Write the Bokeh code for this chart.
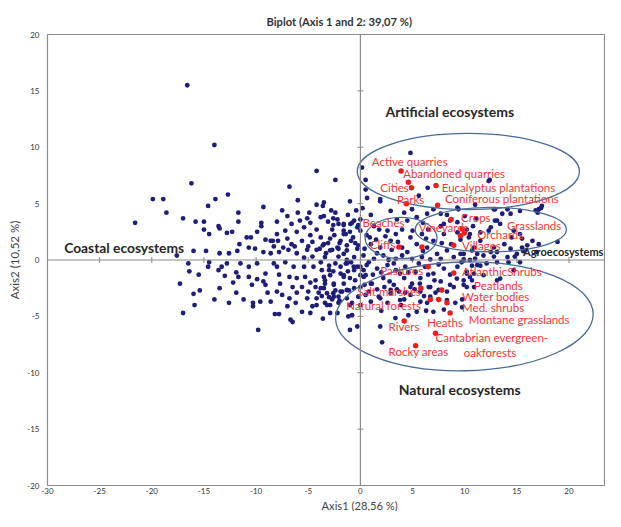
from bokeh.plotting import figure
from bokeh.models import ColumnDataSource, Range1d, FixedTicker, Span, Title
from bokeh.embed import file_html
from bokeh.resources import INLINE
from bokeh.core.properties import value

# ---------------- data ----------------
title_text = "Biplot (Axis 1 and 2: 39,07 %)"
x_title = "Axis1 (28,56 %)"
y_title = "Axis2 (10,52 %)"

x_ticks = [-30, -25, -20, -15, -10, -5, 0, 5, 10, 15, 20, 25]
x_tick_labels = ["-30", "-25", "-20", "-15", "-10", "-5", "0", "5", "10", "15", "20", "25"]
y_ticks = [-20, -15, -10, -5, 0, 5, 10, 15, 20]
y_tick_labels = ["-20", "-15", "-10", "-5", "0", "5", "10", "15", "20"]

# observations (blue points)
blue_pts = [
    (-16.6, 15.5), (-14.0, 10.2), (-16.2, 6.8), (-19.9, 5.4), (-18.9, 5.4), (-18.6, 4.2), (-21.6, 3.3),
    (-17.0, 3.7), (-15.8, 3.4), (-15.0, 3.4), (-14.6, 4.8), (-13.9, 5.4), (-12.7, 5.8), (-11.7, 4.2),
    (-11.7, 3.4), (-9.3, 4.7), (-6.8, 6.5), (-6.0, 5.3), (-4.2, 7.9), (-2.4, 7.1), (-7.5, 4.4), (-7.0, 3.9),
    (-8.0, 3.4), (-9.5, 3.3), (-6.0, 4.2), (-5.1, 3.7), (-4.9, 4.2), (-4.8, 3.3), (-4.2, 4.9), (-3.5, 5.1),
    (-3.6, 4.8), (-3.8, 3.8), (-3.5, 3.9), (-2.8, 4.4), (-2.4, 4.2), (-2.6, 3.7), (-2.2, 3.6), (-2.1, 3.2),
    (-1.6, 3.1), (-0.8, 3.3), (-0.2, 3.1), (-2.6, 3.1), (-13.6, 3.0),
    (-15.0, 2.7), (-14.5, 2.3), (-13.5, 2.8), (-12.8, 2.4), (-12.3, 2.5), (-10.9, 2.0), (-10.5, 2.0),
    (-9.9, 2.5), (-9.5, 3.0), (-9.1, 1.8), (-8.6, 1.7), (-8.4, 1.7), (-8.0, 2.3), (-7.9, 1.7), (-7.0, 1.9),
    (-6.6, 1.4), (-6.1, 2.5), (-5.4, 2.9), (-5.6, 1.7), (-4.8, 2.2), (-4.6, 1.6), (-4.2, 2.7), (-3.8, 2.0),
    (-3.6, 1.3), (-2.9, 1.9), (-2.7, 2.7), (-1.9, 1.7), (-1.6, 2.3), (-1.3, 1.3), (-0.7, 2.0), (-0.3, 1.0),
    (-2.1, 1.0), (-2.7, 0.9), (-3.3, 0.6), (-4.2, 0.9), (-5.1, 0.9), (-6.1, 0.6), (-6.9, 0.9), (-7.8, 0.7),
    (-8.6, 0.6), (-9.3, 0.7), (-10.1, 1.0), (-10.7, 1.1), (-11.6, 1.4), (-11.8, 0.8), (-12.6, 0.6),
    (-13.5, 0.6), (-14.8, 0.8), (-16.0, 0.8), (-17.6, 0.4),
    (-16.5, -0.3), (-16.4, -1.0), (-15.5, -1.3), (-17.3, -2.1), (-16.0, -3.0), (-15.4, -2.7), (-15.9, -4.0),
    (-17.0, -4.7), (-14.6, -0.6), (-14.5, -0.2), (-13.5, -2.5), (-13.3, -0.6), (-12.8, -0.3), (-13.6, -0.9),
    (-11.9, -1.1), (-11.7, -1.5), (-11.9, -2.9), (-11.2, -3.5), (-11.5, -0.3), (-10.7, -0.6), (-10.7, -1.5),
    (-10.4, -2.2), (-10.3, -3.8), (-10.3, -4.1), (-9.8, -6.2), (-9.9, -0.3), (-9.1, -1.2), (-9.3, -1.9),
    (-9.1, -2.2), (-9.6, -3.7), (-8.6, -3.7), (-8.2, -4.8), (-7.8, -4.8), (-8.3, -0.3), (-8.0, -0.6),
    (-7.8, -1.3), (-7.7, -2.1), (-8.0, -2.8), (-7.5, -3.1), (-7.0, -4.1), (-6.7, -5.3), (-6.5, -5.5),
    (-7.2, -0.2), (-6.8, -1.5), (-6.4, -0.6), (-6.1, -1.6), (-6.5, -2.4), (-6.1, -2.9), (-6.2, -3.8),
    (-5.4, -0.6), (-5.3, -1.5), (-5.6, -2.4), (-5.0, -2.8), (-5.1, -3.4), (-4.6, -4.1), (-4.8, -4.7),
    (-4.5, -0.6), (-4.3, -1.8), (-4.3, -2.4), (-4.2, -3.4), (-4.2, -4.0), (-3.8, -0.2), (-3.7, -0.9),
    (-3.5, -1.5), (-3.4, -2.1), (-3.5, -2.5), (-3.2, -2.95), (-3.4, -3.8), (-2.9, -4.0), (-2.7, -3.5),
    (-2.55, -3.25), (-3.0, -0.5), (-2.9, -1.35), (-2.55, -2.1), (-2.4, -2.7), (-2.2, -4.7), (-2.1, -3.8),
    (-2.1, -3.25), (-1.9, -0.6), (-1.6, -1.35), (-1.6, -2.1), (-1.75, -2.8), (-1.3, -3.4), (-1.0, -4.0),
    (-1.15, -5.0), (-1.0, -6.2), (-0.3, -5.9), (-1.3, -0.3), (-0.6, -0.9), (-0.5, -1.8), (-0.6, -2.5),
    (-0.15, -3.25), (0.0, -1.35), (0.0, -2.4), (0.0, -0.6),
    (1.9, 5.2), (2.9, 4.35), (4.95, 4.5), (9.4, 4.5), (11.0, 4.9), (-0.6, 3.5), (0.0, 3.6), (1.3, 3.0),
    (4.5, 3.5), (5.4, 3.8), (7.7, 3.0), (8.6, 3.5), (-1.6, 3.2), (-1.4, 2.3),
    (0.0, 2.6), (0.6, 2.2), (1.8, 2.7), (2.6, 2.6), (3.4, 2.3), (4.0, 2.7), (4.8, 2.0), (5.9, 2.3),
    (6.5, 2.7), (7.0, 1.7), (8.0, 2.3), (9.3, 2.45), (10.5, 2.3),
    (-0.9, 1.7), (-0.2, 1.3), (1.0, 1.4), (1.9, 1.1), (2.9, 1.7), (4.0, 1.1), (4.5, 0.7), (5.4, 1.4),
    (6.4, 1.1), (7.35, 0.55), (8.3, 0.85), (9.6, 0.55), (10.9, 1.1), (11.2, 0.55),
    (-1.3, 0.85), (-0.6, 0.26), (0.3, 0.4), (1.3, 0.1), (2.2, 0.4), (3.4, 0.1), (4.0, 0.4), (4.95, 0.1),
    (5.9, 0.26), (6.7, 0.05), (7.7, 0.1), (8.95, 0.26), (9.9, 0.05),
    (-1.4, -0.32), (-0.3, -0.6), (0.6, -0.45), (1.6, -0.76), (2.6, -0.45), (3.4, -0.9), (4.3, -0.6),
    (5.3, -1.05), (6.2, -0.6), (7.0, -1.2), (8.0, -0.76), (9.3, -0.6), (10.2, -1.05), (11.2, -0.45),
    (-1.6, -1.5), (0.5, -1.35), (1.1, -2.1), (2.2, -1.6), (3.2, -2.2), (4.2, -1.6), (4.95, -2.1),
    (5.75, -1.6), (6.55, -2.4), (7.7, -1.9), (8.6, -2.2), (9.9, -1.8), (10.9, -2.4),
    (-1.3, -2.66), (-0.2, -3.25), (0.8, -2.8), (1.9, -3.4), (2.9, -2.95), (3.8, -3.55), (4.8, -3.1),
    (5.75, -3.7), (6.7, -3.25), (8.3, -3.55), (9.1, -3.8),
    (12.4, 7.1), (12.8, 4.5), (13.6, 4.1), (14.4, 4.1), (16.8, 4.4), (17.3, 4.6), (17.0, 4.2), (10.2, 2.7),
    (10.4, 2.0), (12.3, 2.6), (11.5, 1.7), (13.1, 3.5), (14.7, 2.6), (15.5, 1.9), (14.5, 2.0), (13.8, 1.4),
    (12.8, 1.1), (12.5, 0.7), (11.8, 0.4), (10.7, 0.84), (9.9, 0.55), (11.0, 0.12), (10.5, 0.0),
    (12.8, 0.3), (13.1, 0.7), (14.4, 1.0), (15.5, 1.1), (15.8, 0.84), (9.7, -0.2), (11.5, -0.5),
    (10.9, -1.2), (10.5, -1.5), (13.1, -1.8), (10.2, -2.4), (9.75, -3.5), (9.75, -4.2), (14.2, -0.2),
    (14.8, 0.3),
    (1.9, -5.9), (2.08, -7.3), (3.36, -5.15), (5.4, -4.6), (4.6, -4.9), (6.4, -3.8), (7.0, -4.6),
    (4.2, -3.5), (2.6, -3.8), (1.0, -3.7), (0.0, -4.0), (-0.8, -4.9), (-2.9, -4.7), (-3.2, -4.0),
    (-3.7, -3.2), (-2.6, -2.95), (-1.9, -2.8), (-1.1, -2.7), (0.5, -3.1), (1.76, -3.25), (2.9, -2.66),
    (3.7, -2.8), (4.8, -2.4), (5.75, -2.8), (6.7, -2.4), (7.5, -2.66), (8.3, -2.8), (8.95, -2.4),
    (9.9, -2.2), (10.7, -1.8), (11.8, -1.35), (13.4, -1.65), (14.7, -0.9), (15.3, -0.2), (15.6, 0.8),
    (16.9, 0.7), (9.25, -1.65), (10.2, -1.2), (10.7, -0.5), (12.1, -0.3), (13.1, -0.2), (14.1, 0.26),
    (15.0, 0.55),
    (-3.5, 1.4), (-2.9, 0.85), (-2.2, 1.1), (-1.6, 0.55), (-3.4, 0.26), (-2.4, -0.3), (-1.3, 0.0),
    (-0.64, -0.6), (-3.0, -0.9), (-1.9, -1.2), (-1.0, -1.6), (-3.4, -1.8), (-2.55, -2.2), (0.32, -1.5),
    (1.0, -2.1), (-3.8, -2.5),
    (4.8, 9.5), (0.16, 8.2), (0.5, 7.1), (0.5, 6.25), (0.64, 5.5), (1.9, 5.4), (6.45, 6.4), (5.6, 5.7),
    (12.3, 7.0), (9.3, 4.65), (12.9, 4.5), (14.1, 4.5), (15.3, 4.35), (17.1, 4.5), (17.4, 4.8),
    (4.2, 4.2), (6.4, 4.1), (7.7, 4.1), (8.0, 3.2), (9.3, 3.35), (12.9, 3.5), (13.4, 3.2), (11.5, 2.45),
    (12.5, 2.9), (15.3, 2.3), (16.5, 1.7), (16.0, 1.3), (17.1, 1.4), (18.9, 1.6), (-0.96, 3.2),
    (-0.3, 2.9), (-1.6, 2.6),
    (-2.5, 2.2), (-2.0, 1.5), (-1.0, 2.5), (-0.5, 1.5), (0.4, 1.0), (0.9, 2.0), (1.5, 1.8), (2.4, 2.1),
    (3.0, 0.9), (3.6, 1.6), (1.6, 0.6), (2.7, 0.0), (0.8, -0.2), (-0.9, -0.2), (-2.1, 0.3), (-2.6, -1.0),
    (-1.2, -1.0), (0.3, -0.9), (1.2, -1.3), (2.0, -1.1), (2.8, -1.9), (3.8, -1.2), (4.6, -1.1),
    (5.6, -0.3), (6.5, -1.3), (7.5, -0.4), (8.6, -1.3), (0.4, -2.2), (1.6, -2.6), (2.3, -2.4),
    (3.5, -2.6), (4.3, -2.9), (5.2, -2.6), (6.1, -3.2), (7.2, -2.9), (-0.8, -3.8), (-2.0, -3.6),
    (-3.0, -3.3), (-4.0, -2.9), (-4.8, -2.0), (-5.4, 0.2), (-4.6, 0.3), (-3.9, 1.0), (-3.1, 1.5),
    (-5.0, 1.2), (-6.3, 1.2), (-7.4, 1.1), (-8.3, 1.2), (-7.2, 2.6), (-6.6, 3.2), (-5.8, 3.5),
    (-3.1, 3.4), (-1.2, 4.0), (-0.4, 4.4), (-1.0, 5.2), (0.2, 4.6), (1.0, 4.0), (3.5, 3.6), (6.0, 3.3),
    (7.0, 4.5), (8.3, 4.0), (10.0, 3.9), (11.1, 3.7), (10.8, 3.0), (6.3, 1.9), (5.0, 2.6), (8.7, 1.4),
    (9.6, 1.8), (7.8, 1.5), (6.0, 0.8), (3.2, -0.3), (7.1, -1.8), (5.7, -2.1), (3.9, -4.0), (6.3, -4.5),
    (8.0, -4.4), (2.0, -4.5), (-3.6, -5.2), (-5.6, -4.6), (-6.8, -3.4), (-8.9, -2.9), (-9.9, -1.7),
    (-12.2, -2.0), (-13.0, -1.4), (-14.0, -3.5), (-12.6, -3.8),
]
blue_x = [p_[0] for p_ in blue_pts]
blue_y = [p_[1] for p_ in blue_pts]

# land-cover variables (red points)
red_x = [3.9, 4.6, 4.9, 7.25, 7.4, 4.4, 8.7, 9.75, 9.97, 9.6, 8.95, 3.7, 5.9, 6.5, 8.95, 7.8, 5.8,
         6.7, 7.5, 8.3, 8.6, 4.2, 7.2, 5.3]
red_y = [7.9, 6.9, 6.4, 6.6, 4.85, 5.0, 3.6, 2.75, 2.4, 2.15, 1.3, 1.15, 1.15, -0.6, -1.15, -2.66, -2.5,
         -3.5, -3.5, -3.8, -4.7, -5.4, -6.5, -7.6]

# variable labels (red)
lab_text = ["Active quarries", "Abandoned quarries", "Cities", "Eucalyptus plantations", "Parks",
            "Coniferous plantations", "Crops", "Grasslands", "Beaches", "Vineyards", "Orchards",
            "Cliffs", "Villages", "Pastures", "AtlanthicShrubs", "Peatlands", "Salt marshes",
            "Water bodies", "Natural forests", "Med. shrubs", "Montane grasslands", "Rivers",
            "Heaths", "Cantabrian evergreen-", "oakforests", "Rocky areas"]
lab_x = [1.1, 4.1, 1.9, 7.8, 3.5, 8.1, 9.65, 14.05, 0.2, 5.6, 11.2, 0.9, 9.75, 1.9, 9.75, 10.9,
         -0.3, 9.75, -1.35, 9.75, 10.4, 2.7, 6.4, 7.2, 9.9, 2.7]
lab_y = [8.7, 7.65, 6.4, 6.4, 5.4, 5.45, 3.8, 3.05, 3.3, 2.9, 2.25, 1.4, 1.3, -0.9, -1.0, -2.3,
         -2.8, -3.2, -4.0, -4.2, -5.3, -5.9, -5.5, -6.9, -8.2, -8.15]

# group labels
grp_text = ["Artificial ecosystems", "Coastal ecosystems", "Agroecosystems", "Natural ecosystems"]
grp_x = [2.4, -28.4, 15.6, 3.67]
grp_y = [13.2, 1.14, 0.75, -11.5]

# group ellipses
ell_x = [10.35, 12.5, 3.9, 9.97]
ell_y = [7.85, 2.7, 1.95, -5.0]
ell_w = [21.3, 14.5, 6.9, 24.7]
ell_h = [6.75, 3.95, 3.65, 9.65]
ell_a = [0.0, 0.0, 0.0, 0.02]

# ---------------- figure ----------------
FONT = "Lato"
p = figure(width=605, height=511, x_range=Range1d(-30, 23.5), y_range=Range1d(-20, 20),
           output_backend="svg", toolbar_location=None,
           min_border_left=47, min_border_right=0, min_border_top=34, min_border_bottom=26)

p.title.text = title_text
p.title.align = "left"
p.title.offset = 219
p.title.text_font = FONT
p.title.text_font_size = "11.2px"
p.title.text_font_style = "bold"
p.title.text_color = "#333333"
p.title.standoff = 13

p.grid.visible = False
p.outline_line_color = "#8c8c8c"
p.outline_line_width = 1.2
p.background_fill_color = "white"
p.border_fill_color = "white"

for ax, ticks, labels in ((p.xaxis[0], x_ticks, x_tick_labels), (p.yaxis[0], y_ticks, y_tick_labels)):
    ax.ticker = FixedTicker(ticks=ticks)
    ax.major_label_overrides = {t: l for t, l in zip(ticks, labels)}
    ax.axis_line_color = None
    ax.major_tick_line_color = None
    ax.minor_tick_line_color = None
    ax.major_tick_in = 0
    ax.major_tick_out = 0
    ax.major_label_text_font = FONT
    ax.major_label_text_font_size = "8px"
    ax.major_label_text_color = "#333333"
    ax.axis_label_text_font = FONT
    ax.axis_label_text_font_size = "11.5px"
    ax.axis_label_text_font_style = "normal"
    ax.axis_label_text_color = "#444444"

p.yaxis.axis_label = y_title
p.xaxis.major_label_standoff = 2
p.yaxis.major_label_standoff = 8
p.yaxis.axis_label_standoff = 3

# x-axis title, placed under x = 0 as in the original
xt_title = Title(text=x_title, align="left", offset=274, text_font=FONT, text_font_size="11.2px",
                 text_font_style="normal", text_color="#444444", standoff=0)
p.add_layout(xt_title, "below")

# centre cross with small tick marks
p.add_layout(Span(location=0, dimension="height", line_color="#8c8c8c", line_width=1.2))
p.add_layout(Span(location=0, dimension="width", line_color="#8c8c8c", line_width=1.2))
xt = [t for t in x_ticks if t != 0]
yt = [t for t in y_ticks if t != 0]
p.segment(x0=xt, y0=[-0.27] * len(xt), x1=xt, y1=[0.27] * len(xt), line_color="#8c8c8c", line_width=1)
p.segment(x0=[-0.29] * len(yt), y0=yt, x1=[0.29] * len(yt), y1=yt, line_color="#8c8c8c", line_width=1)

# observations
p.scatter(blue_x, blue_y, size=4.8, color="#1e1e78", line_width=0)

# ellipses
p.ellipse(x=ell_x, y=ell_y, width=ell_w, height=ell_h, angle=ell_a,
          fill_color=None, line_color="#4a6a98", line_width=1.3)

# variables
p.scatter(red_x, red_y, size=5.5, color="#f01c1c", line_width=0)
lab_src = ColumnDataSource(dict(x=lab_x, y=lab_y, text=lab_text))
p.text(x="x", y="y", text="text", source=lab_src, text_font=value(FONT),
       text_font_size=value("11.5px"), text_color="#ff3434", text_align="left", text_baseline="middle")

grp_sizes = ["14px", "13.8px", "11px", "14px"]
for gx, gy, gt, gs in zip(grp_x, grp_y, grp_text, grp_sizes):
    p.text(x=[gx], y=[gy], text=[gt], text_font=value(FONT),
           text_font_size=value(gs), text_font_style="bold", text_color="#262626",
           text_align="left", text_baseline="middle")

open("out.html", "w").write(file_html(p, INLINE))
